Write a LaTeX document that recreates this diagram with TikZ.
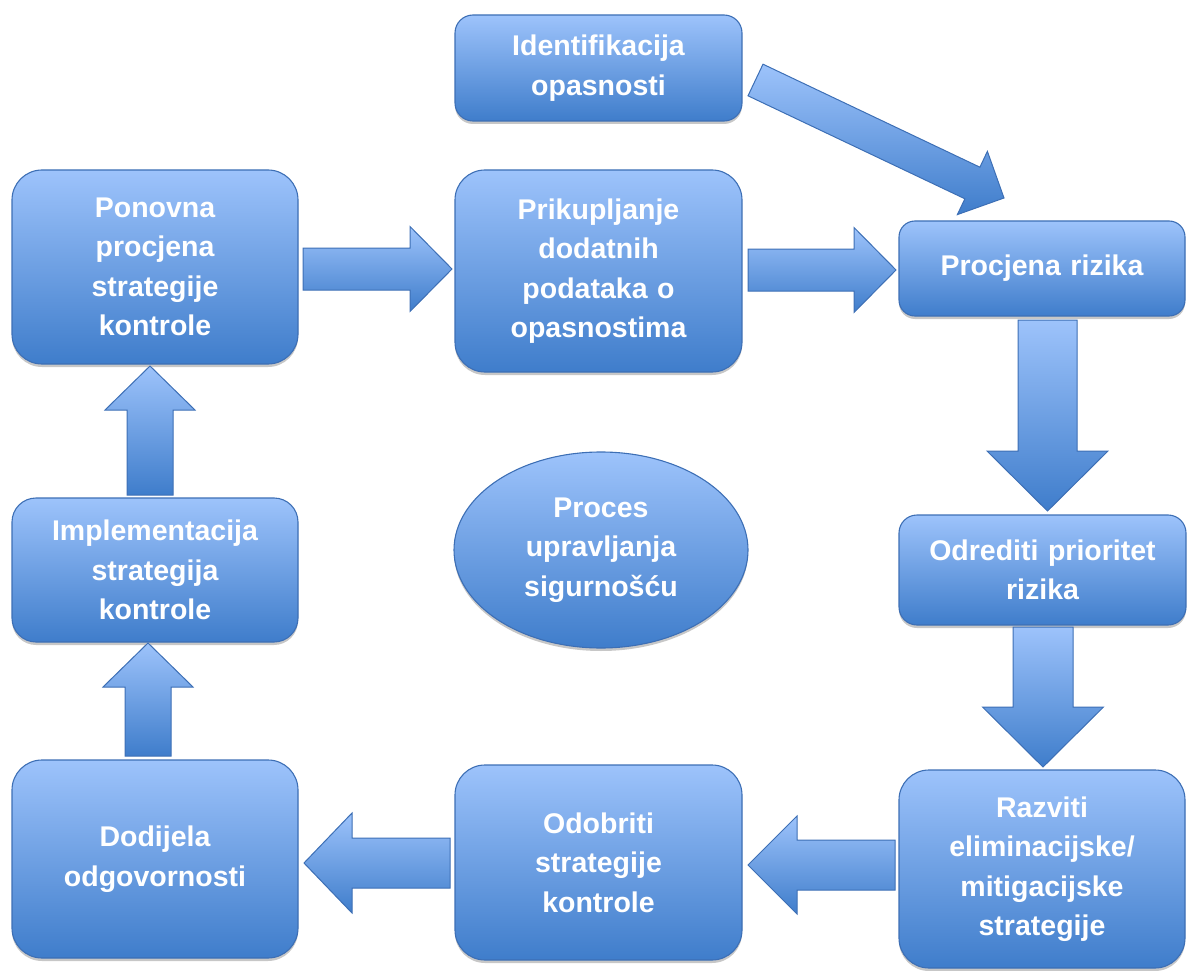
\documentclass[tikz,border=0pt]{standalone}
\usepackage{fontspec}
\setmainfont{Liberation Sans}
\usetikzlibrary{calc,shapes.geometric,shadows}
\definecolor{boxtop}{HTML}{9DC3FB}
\definecolor{boxbot}{HTML}{3F7DCB}
\definecolor{boxline}{HTML}{3D6FB5}
\newcommand\blkarrow[5]{%
  \coordinate (ba-H) at ($(#2)!#5!(#1)$);
  \path[arrowstyle] ($(#1)!#3!90:(#2)$) -- ($(ba-H)!#3!90:(#2)$) -- ($(ba-H)!#4!90:(#2)$)
    -- (#2) -- ($(ba-H)!#4!-90:(#2)$) -- ($(ba-H)!#3!-90:(#2)$) -- ($(#1)!#3!-90:(#2)$) -- cycle;
}
\begin{document}
\begin{tikzpicture}[x=1pt,y=-1pt,
  boxbase/.style={draw=boxline, line width=1.1pt, top color=boxtop, bottom color=boxbot,
    text=white, font=\bfseries\fontsize{28.5}{39.5}\selectfont, align=center,
    inner sep=0pt, outer sep=0pt, text width=270pt,
    drop shadow={shadow xshift=0pt, shadow yshift=-3pt, opacity=0.22, fill=black}},
  rbox/.style={boxbase, rectangle, rounded corners=#1},
  arrowstyle/.style={draw=boxline, line width=1pt, top color=boxtop, bottom color=boxbot}]
\useasboundingbox (0,0) rectangle (1187,971);

% boxes
\node[rbox=18pt, minimum width=287pt, minimum height=106pt] (ident) at (598.5,68) {Identifikacija\\opasnosti};
\node[rbox=30pt, minimum width=286pt, minimum height=194pt] (pon) at (155,267) {Ponovna\\procjena\\strategije\\kontrole};
\node[rbox=30pt, minimum width=287pt, minimum height=202pt] (prik) at (598.5,271) {Prikupljanje\\dodatnih\\podataka o\\opasnostima};
\node[rbox=16pt, minimum width=286pt, minimum height=95pt] (proc) at (1042,268.5) {Procjena rizika};
\node[rbox=18pt, minimum width=287pt, minimum height=110pt] (odr) at (1042.5,570) {Odrediti prioritet\\rizika};
\node[rbox=30pt, minimum width=286pt, minimum height=198pt] (raz) at (1042,869) {Razviti\\eliminacijske/\\mitigacijske\\strategije};
\node[rbox=30pt, minimum width=287pt, minimum height=195pt] (odo) at (598.5,862.5) {Odobriti\\strategije\\kontrole};
\node[rbox=30pt, minimum width=286pt, minimum height=198pt] (dod) at (155,859) {Dodijela\\odgovornosti};
\node[rbox=24pt, minimum width=286pt, minimum height=144pt] (imp) at (155,570) {Implementacija\\strategija\\kontrole};
\node[boxbase, ellipse, text width=200pt, minimum width=294pt, minimum height=196pt] (proces) at (601,550) {Proces\\upravljanja\\sigurnošću};

% connector end points
\coordinate (a1s) at ($(pon.east)+(5,2)$);
\coordinate (a1e) at ($(prik.west)+(-3,-2)$);
\coordinate (a2s) at ($(prik.east)+(6,-1)$);
\coordinate (a2e) at ($(proc.west)+(-3,1.5)$);
\coordinate (a3s) at ($(ident.east)+(13.5,12)$);
\coordinate (a3e) at ($(proc.north west)+(105,-23)$);
\coordinate (a4s) at ($(proc.south)+(5.5,4)$);
\coordinate (a4e) at ($(odr.north)+(5,-4)$);
\coordinate (a5s) at ($(odr.south)+(0.5,2)$);
\coordinate (a5e) at ($(raz.north)+(1,-3)$);
\coordinate (a6s) at ($(raz.west)+(-4,-4)$);
\coordinate (a6e) at ($(odo.east)+(6,2.5)$);
\coordinate (a7s) at ($(odo.west)+(-5,0.5)$);
\coordinate (a7e) at ($(dod.east)+(6,4)$);
\coordinate (a8s) at ($(dod.north)+(-7,-4)$);
\coordinate (a8e) at ($(imp.south)+(-7,1)$);
\coordinate (a9s) at ($(imp.north)+(-5,-3)$);
\coordinate (a9e) at ($(pon.south)+(-5,2)$);

% block arrows
\blkarrow{a1s}{a1e}{21pt}{42.5pt}{42pt}
\blkarrow{a2s}{a2e}{21pt}{42.5pt}{42pt}
\blkarrow{a3s}{a3e}{17.5pt}{35pt}{35pt}
\blkarrow{a4s}{a4e}{29.5pt}{60.5pt}{60pt}
\blkarrow{a5s}{a5e}{30pt}{60.5pt}{60pt}
\blkarrow{a6s}{a6e}{25pt}{49pt}{49pt}
\blkarrow{a7s}{a7e}{25pt}{50pt}{48pt}
\blkarrow{a8s}{a8e}{23pt}{45pt}{44pt}
\blkarrow{a9s}{a9e}{23pt}{45pt}{44pt}
\end{tikzpicture}
\end{document}
